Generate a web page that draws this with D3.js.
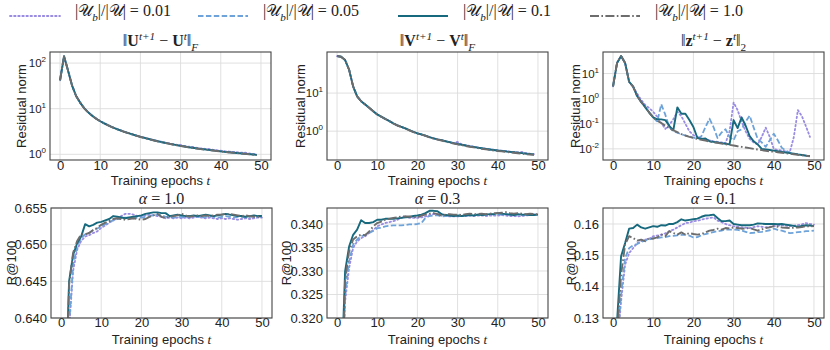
<!DOCTYPE html>
<html>
<head>
<meta charset="utf-8">
<script src="https://cdn.jsdelivr.net/npm/d3@7"></script>
<style>
    body { margin: 0; background: #fff; }
    text { font-family: "Liberation Sans", Arial, sans-serif; fill: #222; }
    .serif { font-family: "Liberation Serif", "DejaVu Serif", serif; }
</style>
</head>
<body>
<div id="chart"></div>
<script>
// ---- data ----
var ratioLabels = ["0.01", "0.05", "0.1", "1.0"];
var xTicks = [0, 10, 20, 30, 40, 50];

// residual ||U^{t+1}-U^t||_F, epochs 0..49
var uRes001 = [42,140,68,32,19,13.6,10.3,8.4,7.1,6.1,5.35,4.8,4.35,3.95,3.65,3.38,3.14,2.94,2.76,2.59,2.44,2.32,2.2,2.09,1.99,1.9,1.82,1.75,1.68,1.62,1.6,1.52,1.47,1.46,1.39,1.35,1.32,1.31,1.26,1.23,1.2,1.17,1.15,1.13,1.11,1.09,1.09,1.05,1.02,0.99];
var uRes005 = [42,141,68,32,19,13.6,10.3,8.3,7.0,6.0,5.3,4.76,4.3,3.92,3.61,3.35,3.11,2.91,2.73,2.56,2.41,2.29,2.17,2.06,1.96,1.87,1.79,1.72,1.65,1.59,1.53,1.48,1.43,1.39,1.35,1.31,1.28,1.25,1.22,1.19,1.16,1.13,1.11,1.09,1.07,1.05,1.03,1.01,0.99,0.97];
var uRes01  = [42,141,68,32,19,13.6,10.3,8.3,7.0,6.0,5.3,4.76,4.3,3.92,3.61,3.35,3.11,2.91,2.73,2.56,2.41,2.29,2.17,2.06,1.96,1.87,1.79,1.72,1.65,1.59,1.53,1.48,1.43,1.39,1.35,1.31,1.28,1.25,1.22,1.19,1.16,1.13,1.11,1.09,1.07,1.05,1.03,1.01,0.99,0.97];
var uRes1   = [42,140,68,32,19,13.5,10.2,8.3,7.0,6.0,5.3,4.75,4.3,3.9,3.6,3.34,3.1,2.9,2.72,2.55,2.4,2.28,2.16,2.05,1.95,1.86,1.78,1.71,1.64,1.58,1.52,1.47,1.42,1.38,1.34,1.3,1.27,1.24,1.21,1.18,1.15,1.12,1.1,1.08,1.06,1.04,1.02,1.0,0.98,0.96];

// residual ||V^{t+1}-V^t||_F
var vRes001 = [94,90,74,41,15,8.2,6.1,5.0,4.1,3.35,2.75,2.4,2.1,1.85,1.6,1.42,1.3,1.18,1.06,0.96,0.88,0.82,0.76,0.7,0.65,0.61,0.58,0.545,0.515,0.49,0.52,0.45,0.43,0.41,0.39,0.375,0.36,0.35,0.335,0.325,0.315,0.307,0.3,0.292,0.285,0.278,0.285,0.265,0.256,0.248];
var vRes005 = [94,90,74,41,15,8.2,6.1,5.0,4.1,3.35,2.75,2.4,2.1,1.85,1.6,1.42,1.3,1.18,1.06,0.96,0.88,0.82,0.76,0.7,0.65,0.61,0.58,0.545,0.515,0.485,0.46,0.44,0.42,0.4,0.385,0.37,0.355,0.342,0.33,0.32,0.31,0.302,0.294,0.286,0.279,0.272,0.265,0.258,0.251,0.245];
var vRes01  = [94,90,74,41,15,8.2,6.1,5.0,4.1,3.35,2.75,2.4,2.1,1.85,1.6,1.42,1.3,1.18,1.06,0.96,0.88,0.82,0.76,0.7,0.65,0.61,0.58,0.545,0.515,0.485,0.46,0.44,0.42,0.4,0.385,0.37,0.355,0.342,0.33,0.32,0.31,0.302,0.294,0.286,0.279,0.272,0.265,0.258,0.251,0.245];
var vRes1   = [94,90,74,41,15,8.2,6.1,5.0,4.1,3.35,2.74,2.39,2.09,1.84,1.59,1.41,1.29,1.17,1.05,0.95,0.87,0.81,0.75,0.69,0.64,0.6,0.57,0.535,0.505,0.475,0.45,0.43,0.41,0.39,0.375,0.36,0.345,0.333,0.322,0.312,0.302,0.294,0.286,0.278,0.271,0.264,0.257,0.25,0.244,0.238];

// residual ||z^{t+1}-z^t||_2
var zRes001 = [3.1,26.5,50,26.5,4.7,3.0,1.6,0.9,0.56,0.42,0.3,0.19,0.107,0.062,0.09,0.15,0.3,0.2,0.1,0.05,0.035,0.03,0.026,0.024,0.022,0.02,0.019,0.018,0.017,0.05,0.7,0.35,0.12,0.05,0.025,0.018,0.015,0.03,0.07,0.03,0.01,0.009,0.0085,0.008,0.0075,0.03,0.35,0.2,0.08,0.03];
var zRes005 = [3.1,26.5,50,26.5,4.7,3.0,1.27,0.74,0.46,0.28,0.18,0.12,0.6,0.23,0.074,0.05,0.044,0.038,0.034,0.031,0.028,0.026,0.032,0.074,0.16,0.074,0.027,0.045,0.06,0.03,0.022,0.05,0.06,0.12,0.21,0.07,0.025,0.018,0.012,0.022,0.04,0.022,0.011,0.0085,0.007,0.0064,0.006,0.0057,0.0054,0.0052];
var zRes01  = [3.1,26.5,50,26.5,4.7,3.0,1.27,0.74,0.46,0.28,0.18,0.15,0.15,0.14,0.083,0.055,0.45,0.25,0.25,0.14,0.074,0.027,0.025,0.026,0.02,0.019,0.018,0.017,0.016,0.015,0.14,0.067,0.18,0.083,0.032,0.02,0.015,0.01,0.0095,0.009,0.0085,0.008,0.0076,0.0072,0.0068,0.0064,0.006,0.0057,0.0054,0.0052];
var zRes1   = [3.1,26.5,50,26.5,4.7,3.0,1.27,0.74,0.46,0.28,0.18,0.13,0.107,0.083,0.067,0.055,0.046,0.039,0.034,0.03,0.027,0.025,0.0227,0.0214,0.0195,0.018,0.0173,0.0162,0.0153,0.0144,0.0136,0.0127,0.012,0.0113,0.0107,0.01,0.0094,0.0089,0.0084,0.008,0.0077,0.0073,0.007,0.0067,0.0064,0.0061,0.0058,0.0056,0.0053,0.0051];

// R@100, epochs 1..50
var recA1_001 = [0.618,0.6385,0.6464,0.6493,0.6505,0.6511,0.6513,0.6516,0.6518,0.6523,0.6526,0.653,0.6533,0.6536,0.6539,0.6542,0.6542,0.6541,0.6539,0.6538,0.654,0.6541,0.654,0.6539,0.6538,0.6536,0.6537,0.6536,0.6537,0.6536,0.6537,0.6536,0.6537,0.6538,0.6537,0.6536,0.6537,0.6536,0.6535,0.6536,0.6535,0.6536,0.6535,0.6534,0.6535,0.6536,0.6535,0.6536,0.6537,0.6537];
var recA1_005 = [0.62,0.639,0.6473,0.6498,0.6509,0.6514,0.6516,0.652,0.6522,0.6525,0.6528,0.6531,0.6533,0.6535,0.6536,0.6537,0.6537,0.6536,0.6537,0.6537,0.6538,0.6539,0.654,0.6541,0.654,0.6538,0.6538,0.6537,0.6538,0.6538,0.6537,0.6538,0.6539,0.6538,0.6537,0.6538,0.6539,0.6538,0.6537,0.6538,0.6539,0.6538,0.6537,0.6538,0.6538,0.6537,0.6538,0.6539,0.6538,0.6538];
var recA1_01  = [0.628,0.645,0.6486,0.6502,0.6511,0.6528,0.6525,0.6527,0.653,0.6531,0.6533,0.6535,0.6539,0.6538,0.6537,0.6536,0.6537,0.6538,0.6539,0.654,0.6542,0.6543,0.6544,0.6544,0.6543,0.6543,0.6539,0.654,0.6541,0.654,0.6539,0.6539,0.654,0.6539,0.654,0.6541,0.654,0.6539,0.654,0.6541,0.6542,0.6541,0.654,0.6539,0.6539,0.6538,0.6539,0.654,0.6539,0.6539];
var recA1_1   = [0.625,0.6445,0.6489,0.6505,0.6514,0.6514,0.6516,0.652,0.6523,0.6527,0.653,0.6532,0.6535,0.6536,0.6535,0.6534,0.6535,0.6536,0.6535,0.6534,0.6535,0.6538,0.654,0.6542,0.6538,0.6536,0.6538,0.6539,0.654,0.6542,0.654,0.6538,0.6539,0.654,0.6539,0.654,0.6539,0.654,0.6541,0.6541,0.6542,0.6542,0.6541,0.654,0.6539,0.654,0.6539,0.6538,0.6538,0.6538];

var recA03_001 = [0.296,0.3235,0.3306,0.3349,0.3363,0.337,0.3374,0.3381,0.3387,0.3395,0.3399,0.3402,0.3404,0.3406,0.3409,0.3413,0.3416,0.3413,0.3413,0.3413,0.3414,0.3416,0.3419,0.3421,0.3421,0.342,0.3419,0.3416,0.3416,0.3416,0.3417,0.3417,0.3418,0.3417,0.3418,0.3418,0.3417,0.3418,0.3418,0.3418,0.3419,0.3418,0.3417,0.3417,0.3416,0.3417,0.3418,0.3419,0.342,0.342];
var recA03_005 = [0.298,0.325,0.3321,0.3356,0.3367,0.3374,0.3377,0.3381,0.3385,0.3391,0.3392,0.3395,0.3396,0.3397,0.3397,0.3397,0.3398,0.3399,0.3399,0.34,0.3402,0.3413,0.3417,0.3418,0.3419,0.3416,0.3417,0.3418,0.3418,0.3418,0.3417,0.3418,0.3419,0.3419,0.342,0.3419,0.342,0.3421,0.342,0.3421,0.342,0.3421,0.342,0.3419,0.342,0.3419,0.342,0.342,0.3421,0.342];
var recA03_01  = [0.305,0.3299,0.3352,0.3377,0.3388,0.3408,0.3402,0.3402,0.3404,0.3409,0.3409,0.3411,0.3411,0.3411,0.3412,0.3413,0.3414,0.3415,0.3417,0.3418,0.342,0.3423,0.3428,0.3428,0.3427,0.3421,0.3419,0.3418,0.3417,0.3418,0.3417,0.3418,0.3419,0.3418,0.342,0.3419,0.342,0.3421,0.3421,0.3423,0.3422,0.3421,0.342,0.3419,0.3421,0.342,0.342,0.3419,0.3419,0.342];
var recA03_1   = [0.3,0.3278,0.3342,0.3367,0.3374,0.3377,0.3376,0.3384,0.3395,0.3402,0.3405,0.3409,0.3411,0.3413,0.3414,0.3416,0.3416,0.3416,0.3415,0.3414,0.3418,0.342,0.3422,0.3423,0.3421,0.3418,0.342,0.3421,0.342,0.342,0.3419,0.3421,0.3422,0.3421,0.3421,0.3422,0.3421,0.3422,0.3423,0.3423,0.3424,0.3425,0.3423,0.3422,0.3423,0.3422,0.3421,0.3422,0.3421,0.3421];

var recA01_001 = [0.12,0.1353,0.147,0.1507,0.1523,0.1539,0.1545,0.155,0.1553,0.1561,0.1563,0.1566,0.157,0.1577,0.1582,0.1589,0.1596,0.1603,0.1604,0.1609,0.161,0.1614,0.1617,0.1619,0.1621,0.1611,0.1606,0.16,0.1596,0.1593,0.1591,0.1589,0.1588,0.1587,0.159,0.1593,0.1591,0.1589,0.1591,0.1593,0.1594,0.1596,0.1595,0.1593,0.1595,0.1596,0.1599,0.1603,0.16,0.1598];
var recA01_005 = [0.122,0.1374,0.1491,0.1523,0.1532,0.1536,0.1543,0.1547,0.155,0.1555,0.1555,0.1557,0.1558,0.1561,0.1562,0.1564,0.1565,0.1566,0.1563,0.1557,0.1558,0.1564,0.1568,0.1571,0.1574,0.1577,0.1579,0.1582,0.1582,0.1582,0.1581,0.1579,0.1575,0.1571,0.1572,0.1574,0.1575,0.1577,0.158,0.1585,0.1581,0.1579,0.1575,0.1571,0.1572,0.1574,0.1575,0.1577,0.1577,0.1579];
var recA01_01  = [0.129,0.1497,0.1539,0.1585,0.1587,0.1598,0.1589,0.1585,0.1589,0.1593,0.1591,0.1596,0.1595,0.16,0.16,0.1606,0.1615,0.1611,0.1613,0.1615,0.1617,0.1623,0.1627,0.1628,0.163,0.1619,0.1609,0.1609,0.1611,0.16,0.1598,0.1596,0.1596,0.1596,0.1598,0.1602,0.1601,0.16,0.16,0.16,0.1599,0.16,0.1598,0.1596,0.1594,0.1591,0.1594,0.1596,0.1595,0.1593];
var recA01_1   = [0.125,0.1438,0.1534,0.1561,0.1555,0.1547,0.155,0.1545,0.1555,0.1553,0.1557,0.1566,0.1561,0.1577,0.1571,0.1566,0.1573,0.1566,0.1571,0.1568,0.1566,0.1568,0.1573,0.1579,0.1581,0.1585,0.1582,0.1587,0.1586,0.1589,0.1587,0.1585,0.1586,0.1587,0.1583,0.1579,0.1583,0.1587,0.1589,0.1593,0.1591,0.1589,0.1588,0.1587,0.1588,0.1589,0.159,0.1593,0.1592,0.1593];

// ---- style ----
var colors = ["#9a8ce2", "#6ea3da", "#17697e", "#6d6d6d"];
var dashes = ["1.5,2.6", "5.5,2.4", null, "9,2.4,1.6,2.4"];
var widths = [1.8, 1.8, 1.9, 1.9];

var width = 830, height = 350;
var svg = d3.select("#chart").append("svg")
    .attr("width", width)
    .attr("height", height);
svg.append("rect").attr("width", width).attr("height", height).attr("fill", "#fff");

var panels = [
    {left: 50, top: 52, h: 108, series: [uRes001, uRes005, uRes01, uRes1], x0: 0, log: true,
     domain: [0.75, 175], ticks: [1, 10, 100], ylabel: "Residual norm", ylx: 21,
     title: [["‖", ""], ["U", "bf"], ["t+1", "sup it"], [" − ", ""], ["U", "bf"], ["t", "sup it"], ["‖", ""], ["F", "sub it"]]},
    {left: 327, top: 52, h: 108, series: [vRes001, vRes005, vRes01, vRes1], x0: 0, log: true,
     domain: [0.175, 120], ticks: [1, 10], ylabel: "Residual norm", ylx: 300,
     title: [["‖", ""], ["V", "bf"], ["t+1", "sup it"], [" − ", ""], ["V", "bf"], ["t", "sup it"], ["‖", ""], ["F", "sub it"]]},
    {left: 603, top: 52, h: 108, series: [zRes001, zRes005, zRes01, zRes1], x0: 0, log: true,
     domain: [0.0036, 72], ticks: [0.01, 0.1, 1, 10], ylabel: "Residual norm", ylx: 575,
     title: [["‖", ""], ["z", "bf"], ["t+1", "sup it"], [" − ", ""], ["z", "bf"], ["t", "sup it"], ["‖", ""], ["2", "sub"]]},
    {left: 51, top: 208, h: 110, series: [recA1_001, recA1_005, recA1_01, recA1_1], x0: 1, log: false,
     domain: [0.640, 0.655], ticks: [0.640, 0.645, 0.650, 0.655], fmt: ".3f", ylabel: "R@100", ylx: 11,
     title: [["α", "it"], [" = 1.0", ""]]},
    {left: 327, top: 208, h: 110, series: [recA03_001, recA03_005, recA03_01, recA03_1], x0: 1, log: false,
     domain: [0.320, 0.3434], ticks: [0.320, 0.325, 0.330, 0.335, 0.340], fmt: ".3f", ylabel: "R@100", ylx: 286,
     title: [["α", "it"], [" = 0.3", ""]]},
    {left: 603, top: 208, h: 110, series: [recA01_001, recA01_005, recA01_01, recA01_1], x0: 1, log: false,
     domain: [0.13, 0.1651], ticks: [0.13, 0.14, 0.15, 0.16], fmt: ".2f", ylabel: "R@100", ylx: 571,
     title: [["α", "it"], [" = 0.1", ""]]}
];
var panelW = 221;

// mixed text with super/subscripts
function richText(sel, parts, size) {
    var cur = 0;
    parts.forEach(function (p) {
        var flags = p[1].split(" ");
        var shift = 0, fs = size;
        if (flags.indexOf("sup") >= 0) { shift = -0.4 * size; fs = size * 0.7; }
        if (flags.indexOf("sub") >= 0) { shift = 0.3 * size; fs = size * 0.7; }
        var t = sel.append("tspan").text(p[0])
            .attr("dy", shift - cur)
            .attr("font-size", fs);
        if (flags.indexOf("bf") >= 0) t.attr("font-weight", "bold");
        if (flags.indexOf("it") >= 0) t.attr("font-style", "italic");
        cur = shift;
    });
}

panels.forEach(function (p, pi) {
    var g = svg.append("g").attr("transform", "translate(" + p.left + "," + p.top + ")");
    var x = d3.scaleLinear().domain([-2.5, 52.5]).range([0, panelW]);
    var y = (p.log ? d3.scaleLog() : d3.scaleLinear()).domain(p.domain).range([p.h, 0]);

    // grid
    g.append("g").selectAll("line").data(xTicks).enter().append("line")
        .attr("x1", function (d) { return x(d); }).attr("x2", function (d) { return x(d); })
        .attr("y1", 0).attr("y2", p.h)
        .attr("stroke", "#dcdcdc").attr("stroke-width", 0.9);
    g.append("g").selectAll("line").data(p.ticks).enter().append("line")
        .attr("x1", 0).attr("x2", panelW)
        .attr("y1", function (d) { return y(d); }).attr("y2", function (d) { return y(d); })
        .attr("stroke", "#dcdcdc").attr("stroke-width", 0.9);

    // axes
    var xa = g.append("g").attr("transform", "translate(0," + p.h + ")")
        .call(d3.axisBottom(x).tickValues(xTicks).tickSize(0).tickPadding(p.log ? 1 : 0));
    xa.select(".domain").remove();
    xa.selectAll("text").attr("font-size", 13).attr("font-family", "Liberation Sans, Arial, sans-serif").attr("fill", "#222");

    var ya = g.append("g")
        .call(d3.axisLeft(y).tickValues(p.ticks).tickSize(0).tickPadding(4)
            .tickFormat(p.log ? function () { return ""; } : d3.format(p.fmt)));
    ya.select(".domain").remove();
    ya.selectAll("text").attr("font-size", 13).attr("font-family", "Liberation Sans, Arial, sans-serif").attr("fill", "#222");
    if (p.log) {
        ya.selectAll(".tick text").attr("font-size", 11.5).each(function (d) {
            var s = d3.select(this);
            var e = Math.round(Math.log10(d));
            s.append("tspan").text("10");
            s.append("tspan").attr("dy", -5).attr("font-size", 8).text(e < 0 ? "-" + (-e) : e);
        });
    }

    // lines
    g.append("clipPath").attr("id", "clip" + pi).append("rect")
        .attr("width", panelW).attr("height", p.h);
    var lg = g.append("g").attr("clip-path", "url(#clip" + pi + ")");
    p.series.forEach(function (vals, si) {
        var line = d3.line()
            .x(function (d, i) { return x(i + p.x0); })
            .y(function (d) { return y(d); });
        lg.append("path").datum(vals)
            .attr("d", line)
            .attr("fill", "none")
            .attr("stroke", colors[si])
            .attr("stroke-width", widths[si])
            .attr("stroke-dasharray", dashes[si])
            .attr("stroke-linejoin", "round")
            .attr("stroke-linecap", si === 0 ? "round" : "butt");
    });

    // frame
    g.append("rect").attr("width", panelW).attr("height", p.h)
        .attr("fill", "none").attr("stroke", "#444").attr("stroke-width", 1.1);

    // title
    var tt = g.append("text").attr("class", "serif")
        .attr("x", panelW / 2).attr("y", p.log ? -6 : -4)
        .attr("text-anchor", "middle").attr("font-size", 16);
    richText(tt, p.title, 16);

    // x label
    var xl = g.append("text").attr("x", panelW / 2).attr("y", p.h + (p.log ? 25 : 26))
        .attr("text-anchor", "middle").attr("font-size", 13);
    xl.append("tspan").text("Training epochs ");
    xl.append("tspan").attr("class", "serif").attr("font-style", "italic").text("t");

    // y label
    svg.append("text")
        .attr("transform", "translate(" + p.ylx + "," + (p.top + p.h / 2) + ") rotate(-90)")
        .attr("text-anchor", "middle").attr("dy", "0.35em")
        .attr("font-size", 13).text(p.ylabel);
});

// legend
var legendX = [10, 198, 398, 590];
var lgd = svg.append("g").attr("transform", "translate(0,16)");
ratioLabels.forEach(function (lab, i) {
    lgd.append("line")
        .attr("x1", legendX[i]).attr("x2", legendX[i] + 50)
        .attr("stroke", colors[i]).attr("stroke-width", widths[i])
        .attr("stroke-dasharray", dashes[i])
        .attr("stroke-linecap", i === 0 ? "round" : "butt");
    var t = lgd.append("text").attr("class", "serif")
        .attr("x", legendX[i] + 65).attr("dy", "0.35em").attr("font-size", 16);
    richText(t, [["|", ""], ["𝒰", ""], ["b", "sub it"], ["|/|", ""], ["𝒰", ""], ["| = " + lab, ""]], 16);
});
</script>
</body>
</html>
